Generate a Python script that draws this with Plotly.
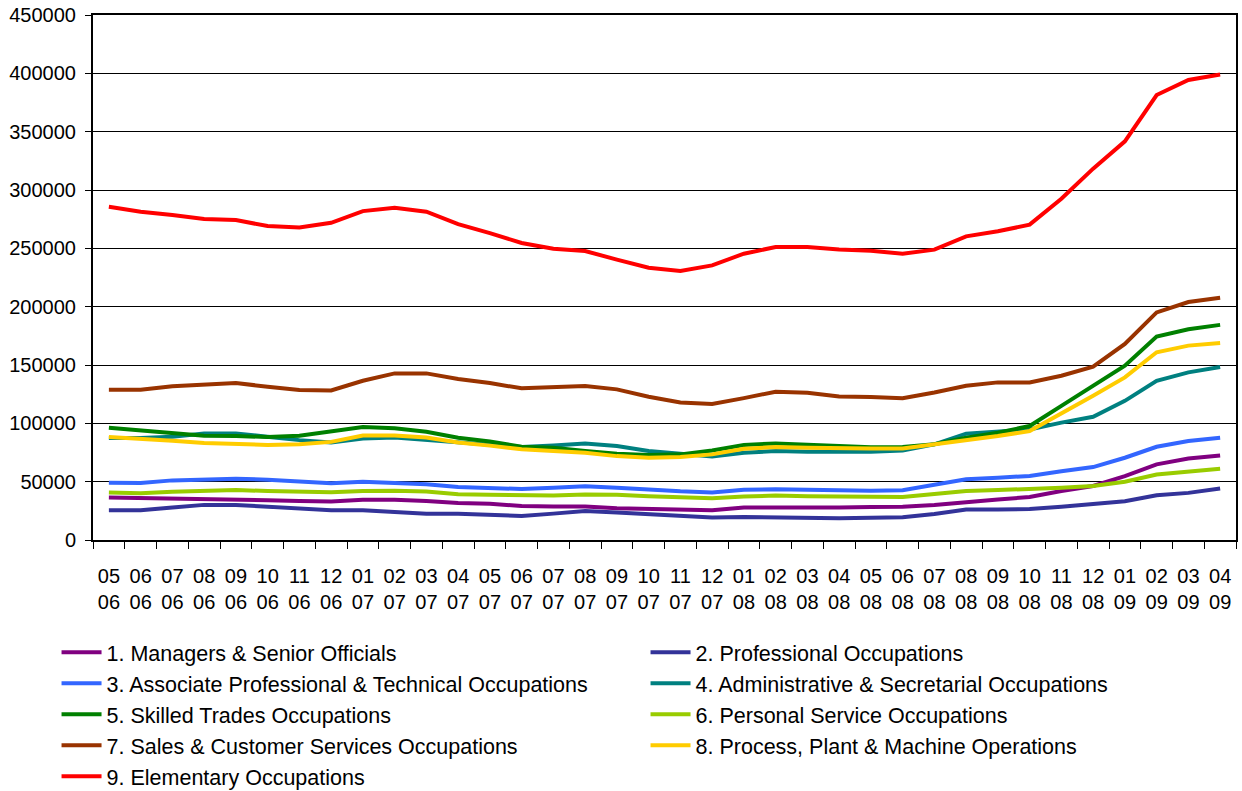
import plotly.graph_objects as go

months = ["05<br>06", "06<br>06", "07<br>06", "08<br>06", "09<br>06", "10<br>06", "11<br>06", "12<br>06",
          "01<br>07", "02<br>07", "03<br>07", "04<br>07", "05<br>07", "06<br>07", "07<br>07", "08<br>07",
          "09<br>07", "10<br>07", "11<br>07", "12<br>07", "01<br>08", "02<br>08", "03<br>08", "04<br>08",
          "05<br>08", "06<br>08", "07<br>08", "08<br>08", "09<br>08", "10<br>08", "11<br>08", "12<br>08",
          "01<br>09", "02<br>09", "03<br>09", "04<br>09"]

managers = [36400, 36100, 35800, 35200, 34900, 34100, 33500, 33000, 34400, 34400, 33500, 31800, 31000, 29200,
            28700, 28700, 27200, 26400, 26100, 25500, 27800, 27800, 27200, 27800, 28300, 28500, 30000, 32800,
            34800, 36800, 42000, 46300, 54700, 64800, 69900, 72500]
professional = [25500, 25500, 27800, 30100, 30100, 28700, 26900, 25500, 25500, 24100, 22600, 22600, 21300, 20600,
                22600, 24900, 23500, 22100, 20600, 19200, 19800, 19200, 18600, 18600, 19000, 19500, 22300, 26100,
                26100, 26600, 28400, 30400, 33200, 38400, 40400, 44100]
associate = [49100, 48800, 51100, 51700, 52600, 51700, 50300, 48600, 50000, 49100, 47700, 45400, 44500, 43700,
             44800, 46000, 44800, 43100, 41700, 40800, 43100, 43400, 42800, 42600, 42300, 42600, 47100, 52000,
             53400, 54900, 59000, 62500, 70500, 79900, 84800, 87700]
administrative = [87500, 87500, 88500, 91300, 91300, 88300, 85600, 83500, 87000, 87800, 85600, 83500, 82000, 79700,
                  81100, 82800, 80500, 76200, 73900, 71600, 74800, 76200, 75600, 75400, 75600, 76800, 82000, 91100,
                  92800, 94800, 100600, 105600, 119300, 136500, 143700, 148300]
skilled = [96300, 94000, 91700, 89400, 89100, 88300, 89400, 93400, 96800, 95700, 92800, 87700, 84400, 80000,
           79100, 76200, 73900, 72800, 73400, 76800, 81400, 82800, 82000, 80500, 79500, 79700, 82000, 87700,
           92000, 97700, 115000, 132200, 149400, 174400, 180700, 184400]
personal = [40700, 40100, 41300, 42000, 42800, 42000, 41500, 40900, 42000, 42300, 41500, 39200, 38800, 38100,
            38100, 38900, 38700, 37500, 36700, 35800, 37200, 38100, 37500, 37200, 36800, 36800, 39500, 42000,
            42800, 43400, 44800, 46300, 50000, 56200, 59000, 61000]
sales = [128800, 128800, 131700, 132800, 134500, 131400, 128500, 128200, 136500, 142800, 142800, 138000, 134500,
         130000, 130800, 132000, 129100, 122800, 117900, 116500, 121600, 127100, 126200, 123100, 122500, 121600,
         126500, 132200, 135100, 135100, 140800, 148600, 168000, 195100, 204000, 207700]
process = [88300, 87000, 85000, 83200, 82100, 81500, 82100, 84100, 89600, 89600, 87800, 83500, 80900, 77700,
           76200, 74800, 71900, 70500, 71100, 73400, 78200, 79700, 79100, 78500, 78500, 78500, 82000, 86200,
           89100, 93400, 108400, 123600, 139400, 160900, 166600, 168900]
elementary = [285700, 281400, 278500, 275100, 274200, 269100, 267900, 271900, 281900, 284800, 281400, 270800,
              263000, 254600, 249700, 247700, 240300, 233400, 230500, 235400, 245400, 251100, 251100, 249100,
              248000, 245400, 248900, 260300, 264600, 270300, 292500, 318300, 341700, 381400, 394300, 399000]

series = [
    ("1. Managers & Senior Officials", managers, "#800080"),
    ("2. Professional Occupations", professional, "#333399"),
    ("3. Associate Professional & Technical Occupations", associate, "#3366FF"),
    ("4. Administrative & Secretarial Occupations", administrative, "#008080"),
    ("5. Skilled Trades Occupations", skilled, "#008000"),
    ("6. Personal Service Occupations", personal, "#99CC00"),
    ("7. Sales & Customer Services Occupations", sales, "#993300"),
    ("8. Process, Plant & Machine Operations", process, "#FFCC00"),
    ("9. Elementary Occupations", elementary, "#FF0000"),
]

fig = go.Figure()
for name, vals, col in series:
    fig.add_trace(go.Scatter(x=months, y=vals, name=name, mode="lines",
                             line=dict(color=col, width=4)))

font = "Arial, Liberation Sans, sans-serif"
fig.update_layout(
    width=1242, height=791,
    margin=dict(l=93, r=6, t=15, b=251, autoexpand=False),
    paper_bgcolor="white", plot_bgcolor="white",
    font=dict(family=font, size=20, color="black"),
    showlegend=True,
    legend=dict(orientation="h", x=-0.0319, y=-0.175, xanchor="left", yanchor="top",
                entrywidth=534, entrywidthmode="pixels", traceorder="normal",
                font=dict(family=font, size=21.5, color="black"), itemwidth=40),
    xaxis=dict(type="category", range=[-0.5, 35.5], tickson="boundaries", ticks="outside",
               ticklen=7, tickcolor="black", showline=True, linecolor="black", linewidth=2,
               mirror=True, showgrid=False, tickfont=dict(size=20), tickangle=0,
               ticklabelstandoff=17),
    yaxis=dict(range=[0, 450000], dtick=50000, ticks="outside", ticklen=6, tickcolor="black",
               showline=True, linecolor="black", linewidth=2, mirror=True, showgrid=True,
               gridcolor="black", gridwidth=1, tickformat="d", zeroline=False,
               tickfont=dict(size=20), ticklabelstandoff=5),
)

fig.write_html("out.html", config={"displayModeBar": False},
               post_script="document.body.style.margin='0';document.body.style.overflow='hidden';")
